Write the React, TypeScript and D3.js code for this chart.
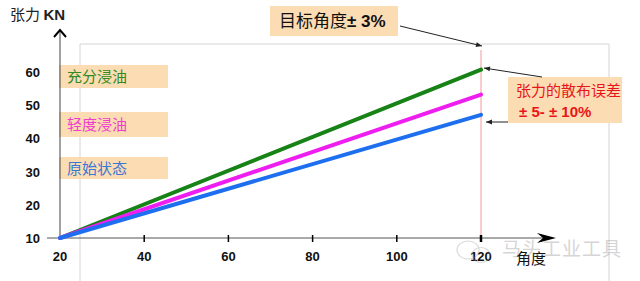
import React from "react";
import * as d3 from "d3";

const angles = [20, 120];
const fullOil = [10, 60.7];
const lightOil = [10, 53.2];
const original = [10, 47.1];
const xTicks = [20, 40, 60, 80, 100, 120];
const yTicks = [10, 20, 30, 40, 50, 60];
const seriesNames = ["充分浸油", "轻度浸油", "原始状态"];

const W = 640, H = 281;
const CJK = "'Noto Sans CJK SC', 'Noto Sans', sans-serif";
const LAT = "'Liberation Sans', Arial, sans-serif";

export default function App() {
  const x = d3.scaleLinear().domain([20, 120]).range([60, 481]);
  const y = d3.scaleLinear().domain([10, 60]).range([238, 72]);
  const line = d3.line<[number, number]>().x(d => x(d[0])).y(d => y(d[1]));
  const series = [
    { v: fullOil, c: "#178317", tc: "#2f8a1f", ly: 65, lh: 23 },
    { v: lightOil, c: "#ee1ef0", tc: "#f03ccc", ly: 112, lh: 25 },
    { v: original, c: "#1e6ff0", tc: "#3a78d6", ly: 157, lh: 22 },
  ];
  const boxFill = "#fcdcb3";
  return (
    <svg width={W} height={H} style={{ position: "absolute", left: 0, top: 0, background: "#fff" }}>
      <defs>
        <marker id="ah" viewBox="0 0 10 10" refX="10" refY="5" markerWidth="7" markerHeight="6" orient="auto">
          <path d="M0,1 L10,5 L0,9 z" fill="#222" />
        </marker>
      </defs>
      <path d="M80,281 V44 H609 V281" fill="none" stroke="#d4d4d4" strokeWidth={1} />
      {series.map((s, i) => (
        <g key={i}>
          <rect x={59} y={s.ly} width={109} height={s.lh} fill={boxFill} />
          <text x={67} y={s.ly + s.lh / 2 + 5.5} fontFamily={CJK} fontSize={15} fill={s.tc}>{seriesNames[i]}</text>
        </g>
      ))}
      <line x1={60} y1={238} x2={60} y2={31} stroke="#444" strokeWidth={1} />
      <path d="M54,37 L60,30 L66,37" fill="none" stroke="#000" strokeWidth={2} />
      <line x1={47} y1={238} x2={553} y2={238} stroke="#555" strokeWidth={1} />
      <path d="M537,233 L556,238 L537,243 L543,238 z" fill="#000" />
      <line x1={x(120)} y1={50} x2={x(120)} y2={238} stroke="#f29a9a" strokeWidth={1} />
      {xTicks.map(t => (
        <g key={t}>
          {t !== 20 && <line x1={x(t)} x2={x(t)} y1={235} y2={242} stroke="#000" strokeWidth={t === 120 ? 2.5 : 1.5} />}
          <text x={x(t)} y={261} textAnchor="middle" fontFamily={LAT} fontWeight="bold" fontSize={13} fill="#111">{t}</text>
        </g>
      ))}
      {yTicks.map(t => (
        <text key={t} x={40} y={y(t) + 5} textAnchor="end" fontFamily={LAT} fontWeight="bold" fontSize={13} fill="#111">{t}</text>
      ))}
      <text x={10} y={20} fontFamily={CJK} fontSize={15} fill="#222">张力 <tspan fontFamily={LAT} fontWeight="bold">KN</tspan></text>
      <text x={516} y={264} fontFamily={CJK} fontSize={15} fill="#111">角度</text>
      {series.map((s, i) => (
        <path key={i} d={line(angles.map((a, j) => [a, s.v[j]]) as [number, number][]) || ""} fill="none" stroke={s.c} strokeWidth={4} strokeLinecap="round" />
      ))}
      <rect x={270} y={6} width={128} height={30} fill={boxFill} />
      <text x={279} y={27} fontFamily={CJK} fontSize={17} fill="#111">目标角度<tspan fontFamily={LAT} fontWeight="bold">± 3%</tspan></text>
      <line x1={400} y1={26} x2={482} y2={46} stroke="#222" strokeWidth={1} markerEnd="url(#ah)" />
      <rect x={508} y={77} width={114} height={46} fill={boxFill} />
      <text x={516} y={96} fontFamily={CJK} fontSize={15} fill="#e81518">张力的散布误差</text>
      <text x={519} y={117} fontFamily={LAT} fontWeight="bold" fontSize={15} fill="#e81518">± 5- ± 10%</text>
      <line x1={542} y1={77} x2={484} y2={68} stroke="#222" strokeWidth={1} markerEnd="url(#ah)" />
      <line x1={508} y1={122} x2={486} y2={122} stroke="#222" strokeWidth={1} markerEnd="url(#ah)" />
      <g opacity={0.35}>
        <ellipse cx={468} cy={250} rx={11} ry={9} fill="none" stroke="#999" strokeWidth={1.2} />
        <ellipse cx={481} cy={255} rx={9} ry={7.5} fill="none" stroke="#999" strokeWidth={1.2} />
        <text x={502} y={256} fontFamily={CJK} fontSize={19} fill="#888" letterSpacing={1}>马头工业工具</text>
      </g>
    </svg>
  );
}
